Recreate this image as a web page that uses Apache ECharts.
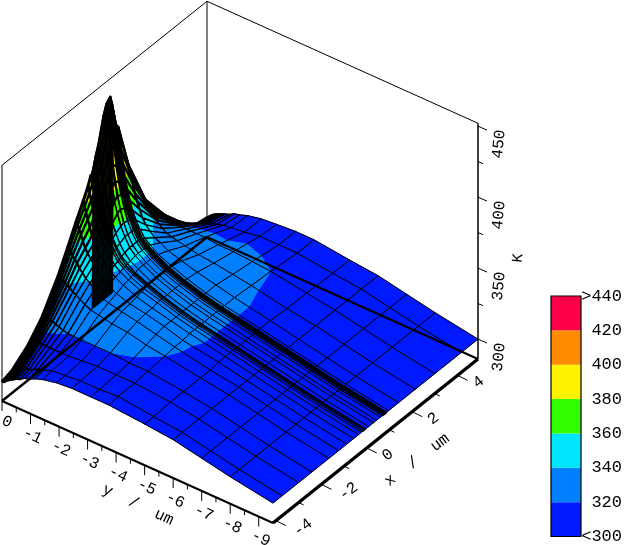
<!DOCTYPE html>
<html><head><meta charset="utf-8">
<style>html,body{margin:0;padding:0;background:#fff}#c{width:625px;height:545px}</style>
<script src="https://cdn.jsdelivr.net/npm/echarts@6/dist/echarts.min.js"></script>
</head><body><div id="c"></div>
<script>
// mesh positions, um
const xMesh=[-4.13,-3.73,-3,-2.42,-1.67,-1.24,-.88,-.58,-.36,-.23,-.16,-.1,-.05,.08,.3,.43,.6,.68,.74,.78,.81,.83,.86,.96,1.4,2.14,3,4.16,4.9];
const yMesh=[0,-.03,-.07,-.12,-.18,-.25,-.33,-.42,-.52,-.64,-.78,-.95,-1.15,-1.43,-1.9,-2.44,-3.1,-3.75,-5,-6,-7,-8,-9.5];
// temperature (K), one row per yMesh value, one column per xMesh value
const tempRows=[
[300,302,311,322,343,358,371,381,389,395,300,300,300,300,300,300,300,300,300,424,421,419,417,414,382,348,326,302,300],
[300,302,311,322,343,358,371,381,389,395,398,402,406,413,430,437,440,434,428,424,421,419,417,414,382,348,326,302,300],
[300,303,312,322,342,357,369,378,385,390,393,396,399,406,422,430,431,426,421,418,416,414,412,408,380,347,326,303,301],
[301,304,312,323,342,355,366,374,380,384,387,390,392,398,412,419,418,414,410,408,406,404,403,399,375,345,325,304,302],
[302,304,313,323,341,353,363,370,375,379,381,383,385,390,402,407,405,402,399,397,396,394,393,390,370,343,325,305,303],
[303,305,314,324,340,351,359,365,370,373,375,376,378,382,391,396,393,391,389,387,386,385,384,381,364,341,324,306,304],
[304,306,315,324,339,349,355,360,365,367,369,370,371,375,382,385,383,381,380,378,378,377,376,373,359,339,324,307,305],
[305,307,316,324,338,346,352,356,360,362,363,364,365,368,373,376,374,373,372,371,370,370,369,366,354,337,323,309,306],
[306,308,316,323,336,344,349,352,355,357,358,359,360,362,366,367,366,365,365,364,363,363,362,360,349,335,323,310,307],
[307,309,316,322,335,341,346,349,351,352,353,354,354,356,358,359,358,358,357,357,357,356,356,354,345,333,323,311,308],
[309,310,316,321,333,339,343,345,347,348,348,349,349,350,352,352,352,352,351,351,351,351,351,349,342,331,323,312,309],
[310,312,316,320,331,336,339,341,342,343,343,344,344,345,346,346,346,346,346,346,346,346,345,344,339,330,323,313,311],
[312,313,316,320,329,333,336,338,339,340,340,340,341,341,342,342,342,342,342,342,342,342,342,341,337,329,323,314,312],
[314,315,316,320,328,331,333,335,336,336,337,337,337,338,338,338,338,338,338,338,338,338,338,337,334,328,323,315,314],
[316,316,317,320,326,329,330,331,332,332,333,333,333,333,333,333,333,333,333,333,333,333,333,333,331,326,322,316,316],
[317,317,318,320,325,327,328,328,329,329,329,329,329,329,329,329,329,329,329,329,329,329,329,329,328,325,322,318,317],
[317,317,318,319,322,324,325,325,325,325,325,325,325,325,325,325,325,325,325,325,325,325,325,325,325,323,321,318,318],
[317,318,318,319,320,321,321,322,322,322,322,322,322,322,322,322,322,322,322,322,322,322,322,322,322,321,320,318,318],
[315,315,316,316,316,316,317,317,317,317,317,317,317,317,317,317,317,317,317,317,317,317,317,317,317,316,316,315,315],
[313,313,313,313,313,313,313,313,313,313,313,313,313,313,313,313,313,313,313,313,313,313,313,313,313,313,313,313,313],
[309,309,309,309,309,309,309,309,309,309,309,309,309,309,309,309,309,309,309,309,309,309,309,309,309,309,309,309,309],
[305,305,305,305,305,305,305,305,305,305,305,305,305,305,305,305,305,305,305,305,305,305,305,305,305,305,305,305,305],
[300,300,300,300,300,300,300,300,300,300,300,300,300,300,300,300,300,300,300,300,300,300,300,300,300,300,300,300,300]
];
// axes
const xRange=[-4.13,4.9], yRange=[0,-9.5], zRange=[286,452];
const yMajor=[0,-1,-2,-3,-4,-5,-6,-7,-8,-9];
const yMinor=[-.5,-1.5,-2.5,-3.5,-4.5,-5.5,-6.5,-7.5,-8.5];
const xMajor=[-4,-2,0,2,4];
const xMinor=[-3,-1,1,3];
const zMajor=[300,350,400,450];
const zMinor=[325,375,425];
// colour scale
const bandEdges=[300,320,340,360,380,400,420,440];
const bandColors=['#0019ff','#0080ff','#00e5ff','#33ff00','#fff200','#ff8c00','#ff0048'];
const scaleLabels=['<300','320','340','360','380','400','420','>440'];

const FONT='"Liberation Mono"';
// orthographic view: floor corners and vertical scale
function proj(x,y,t){
  const u=(x-xRange[0])/(xRange[1]-xRange[0]), v=(y-yRange[0])/(yRange[1]-yRange[0]);
  return [2+205*u+271*v, 401-164*u+122*v-(t-zRange[0])*1.42];
}
const bandOf=i=>[i===0?-1e9:bandEdges[i], i===bandColors.length-1?1e9:bandEdges[i+1]];
function clip(poly,level,keepAbove){
  const out=[];
  for(let i=0;i<poly.length;i++){
    const a=poly[i],b=poly[(i+1)%poly.length];
    const ia=keepAbove?a[2]>=level:a[2]<=level, ib=keepAbove?b[2]>=level:b[2]<=level;
    if(ia)out.push(a);
    if(ia!==ib){const f=(level-a[2])/(b[2]-a[2]);out.push([a[0]+f*(b[0]-a[0]),a[1]+f*(b[1]-a[1]),level]);}
  }
  return out;
}
const cells=[];
for(let r=0;r<yMesh.length-1;r++)for(let c=xMesh.length-2;c>=0;c--)cells.push([r,c]);
const vert=(r,c)=>{const p=proj(xMesh[c],yMesh[r],tempRows[r][c]);return [p[0],p[1],tempRows[r][c]];};
function cellPoly(r,c){return [vert(r,c),vert(r,c+1),vert(r+1,c+1),vert(r+1,c)];}
// closely spaced mesh lines merge into black in the reference: weight them by spacing
function meshWidth(r,c){
  const gapY=Math.abs(yMesh[r+1]-yMesh[r]), gapX=xMesh[c+1]-xMesh[c];
  let w=1;
  if(gapY<.1)w=2.2; else if(gapY<.14)w=1.6; else if(gapY<.2)w=1.25;
  if(gapX<.045)w=Math.max(w,1.8); else if(gapX<.07)w=Math.max(w,1.3);
  return w;
}
function renderCell(params,api){
  const [r,c]=cells[params.dataIndex];
  const q=cellPoly(r,c), kids=[];
  const toPx=p=>api.coord([p[0],p[1]]);
  bandColors.forEach((col,i)=>{
    const [lo,hi]=bandOf(i);
    let p=clip(q,lo,true); if(p.length>2)p=clip(p,hi,false);
    if(p.length>2)kids.push({type:'polygon',shape:{points:p.map(toPx)},style:{fill:col,stroke:col,lineWidth:.5,lineJoin:'round'}});
  });
  kids.push({type:'polygon',shape:{points:q.map(toPx)},style:{fill:'none',stroke:'#000',lineWidth:meshWidth(r,c),lineJoin:'round'}});
  return {type:'group',children:kids};
}
// wall at the first mesh row where its temperature differs from the second row
const wallCells=[];
for(let c=0;c<xMesh.length-1;c++) if(tempRows[0][c]===300&&tempRows[0][c+1]===300&&tempRows[1][c]>350) wallCells.push(c);
function renderWall(params,api){
  const q=cellPoly(0,wallCells[params.dataIndex]).map(p=>api.coord([p[0],p[1]]));
  return {type:'polygon',shape:{points:q},style:{fill:'#000',stroke:'#000',lineWidth:1,opacity:.93,lineJoin:'round'}};
}
// line segments: [p1,p2,width]
const P=(x,y,t)=>proj(x,y,t);
const x0=xRange[0],x1=xRange[1],y0=yRange[0],y1=yRange[1],z0=zRange[0],z1=zRange[1];
const boxSegs=[
 [P(x0,y0,z0),P(x0,y0,z1),1],[P(x1,y0,z0),P(x1,y0,z1),1],[P(x1,y1,z0),P(x1,y1,z1),1],
 [P(x0,y0,z1),P(x1,y0,z1),1],[P(x1,y0,z1),P(x1,y1,z1),1]];
const floorSegs=[
 [P(x0,y0,z0),P(x1,y0,z0),2.4],[P(x1,y0,z0),P(x1,y1,z0),2],
 [P(x0,y0,z0),P(x0,y1,z0),2],[P(x0,y1,z0),P(x1,y1,z0),3.4],[P(x1,y1,z0),P(x1,y1,z1),1]];
const off=(p,dx,dy)=>[p[0]+dx,p[1]+dy];
yMajor.forEach(v=>{const p=P(x0,v,z0);floorSegs.push([p,off(p,0,10),1]);});
yMinor.forEach(v=>{const p=P(x0,v,z0);floorSegs.push([p,off(p,0,5),1]);});
xMajor.forEach(v=>{const p=P(v,y1,z0);floorSegs.push([p,off(p,10,5),1]);});
xMinor.forEach(v=>{const p=P(v,y1,z0);floorSegs.push([p,off(p,5,2.5),1]);});
zMajor.forEach(v=>{const p=P(x1,y1,v);floorSegs.push([p,off(p,9,4),1]);});
zMinor.forEach(v=>{const p=P(x1,y1,v);floorSegs.push([p,off(p,5,2),1]);});
function segSeries(segs,z){
  return {type:'custom',coordinateSystem:'cartesian2d',xAxisIndex:0,yAxisIndex:0,z,silent:true,clip:false,
    data:segs.map((s,i)=>[i,i]),
    renderItem(params,api){const s=segs[params.dataIndex];const a=api.coord(s[0]),b=api.coord(s[1]);
      return {type:'line',shape:{x1:a[0],y1:a[1],x2:b[0],y2:b[1]},style:{stroke:'#000',lineWidth:s[2]}};}};
}
// text placed next to the axes
const texts=[];
const txt=(t,p,rot,size)=>texts.push({t,p,rot,size});
yMajor.forEach(v=>txt(String(v),off(P(x0,v,z0),v===0?5:2,v===0?21:22),-25,16));
xMajor.forEach(v=>txt(String(v),off(P(v,y1,z0),v<0?27:21,7),37,16));
zMajor.forEach(v=>txt(String(v),off(P(x1,y1,v),21,18),84,16));
txt('K',[518,258],84,15);
txt('y  /  um',[138,505],-25,16);
txt('x  /  um',[417,460],37,16);
const textSeries={type:'custom',coordinateSystem:'cartesian2d',xAxisIndex:0,yAxisIndex:0,z:6,silent:true,clip:false,
  data:texts.map((s,i)=>[i,i]),
  renderItem(params,api){const s=texts[params.dataIndex];const a=api.coord(s.p);
    return {type:'text',x:a[0],y:a[1],rotation:s.rot*Math.PI/180,
      style:{text:s.t,font:s.size+'px '+FONT,fill:'#000',align:'center',verticalAlign:'middle'}};}};

const bandData=bandColors.map((c,i)=>[bandEdges[i],bandEdges[i+1]]);
const option={
 animation:false,backgroundColor:'#fff',
 grid:[{left:0,top:0,width:625,height:545,show:false},
       {left:551,top:296,width:34,height:241,show:false}],
 xAxis:[{type:'value',min:0,max:625,show:false,gridIndex:0},
        {type:'value',min:0,max:1,show:false,gridIndex:1}],
 yAxis:[{type:'value',min:0,max:545,inverse:true,show:false,gridIndex:0},
        {type:'value',min:300,max:440,interval:20,gridIndex:1,position:'right',
         axisLine:{show:false},axisTick:{show:false},splitLine:{show:false},
         axisLabel:{show:true,margin:41,align:'right',fontFamily:FONT,fontSize:17,color:'#000',
           formatter:(v)=>scaleLabels[bandEdges.indexOf(v)]}}],
 series:[
  segSeries(boxSegs,1),
  {type:'custom',coordinateSystem:'cartesian2d',xAxisIndex:0,yAxisIndex:0,z:2,silent:true,clip:false,progressive:0,
   data:cells.map((s,i)=>[i,i]),renderItem:renderCell},
  {type:'custom',coordinateSystem:'cartesian2d',xAxisIndex:0,yAxisIndex:0,z:3,silent:true,clip:false,
   data:wallCells.map((s,i)=>[i,i]),renderItem:renderWall},
  segSeries(floorSegs,4),
  textSeries,
  {type:'custom',coordinateSystem:'cartesian2d',xAxisIndex:1,yAxisIndex:1,z:2,silent:true,clip:false,
   data:bandData,
   renderItem(params,api){
     const a=api.coord([0,api.value(1)]),b=api.coord([1,api.value(0)]);
     return {type:'rect',shape:{x:a[0],y:a[1],width:b[0]-a[0],height:b[1]-a[1]},style:{fill:bandColors[params.dataIndex]}};}},
  {type:'custom',coordinateSystem:'cartesian2d',xAxisIndex:1,yAxisIndex:1,z:3,silent:true,clip:false,
   data:[[300,440]],
   renderItem(params,api){
     const a=api.coord([0,api.value(1)]),b=api.coord([1,api.value(0)]);
     return {type:'rect',shape:{x:a[0],y:a[1],width:b[0]-a[0],height:b[1]-a[1]},style:{fill:'none',stroke:'#000',lineWidth:1.2}};}}
 ]};
echarts.init(document.getElementById('c'),null,{renderer:'canvas'}).setOption(option);
</script></body></html>
